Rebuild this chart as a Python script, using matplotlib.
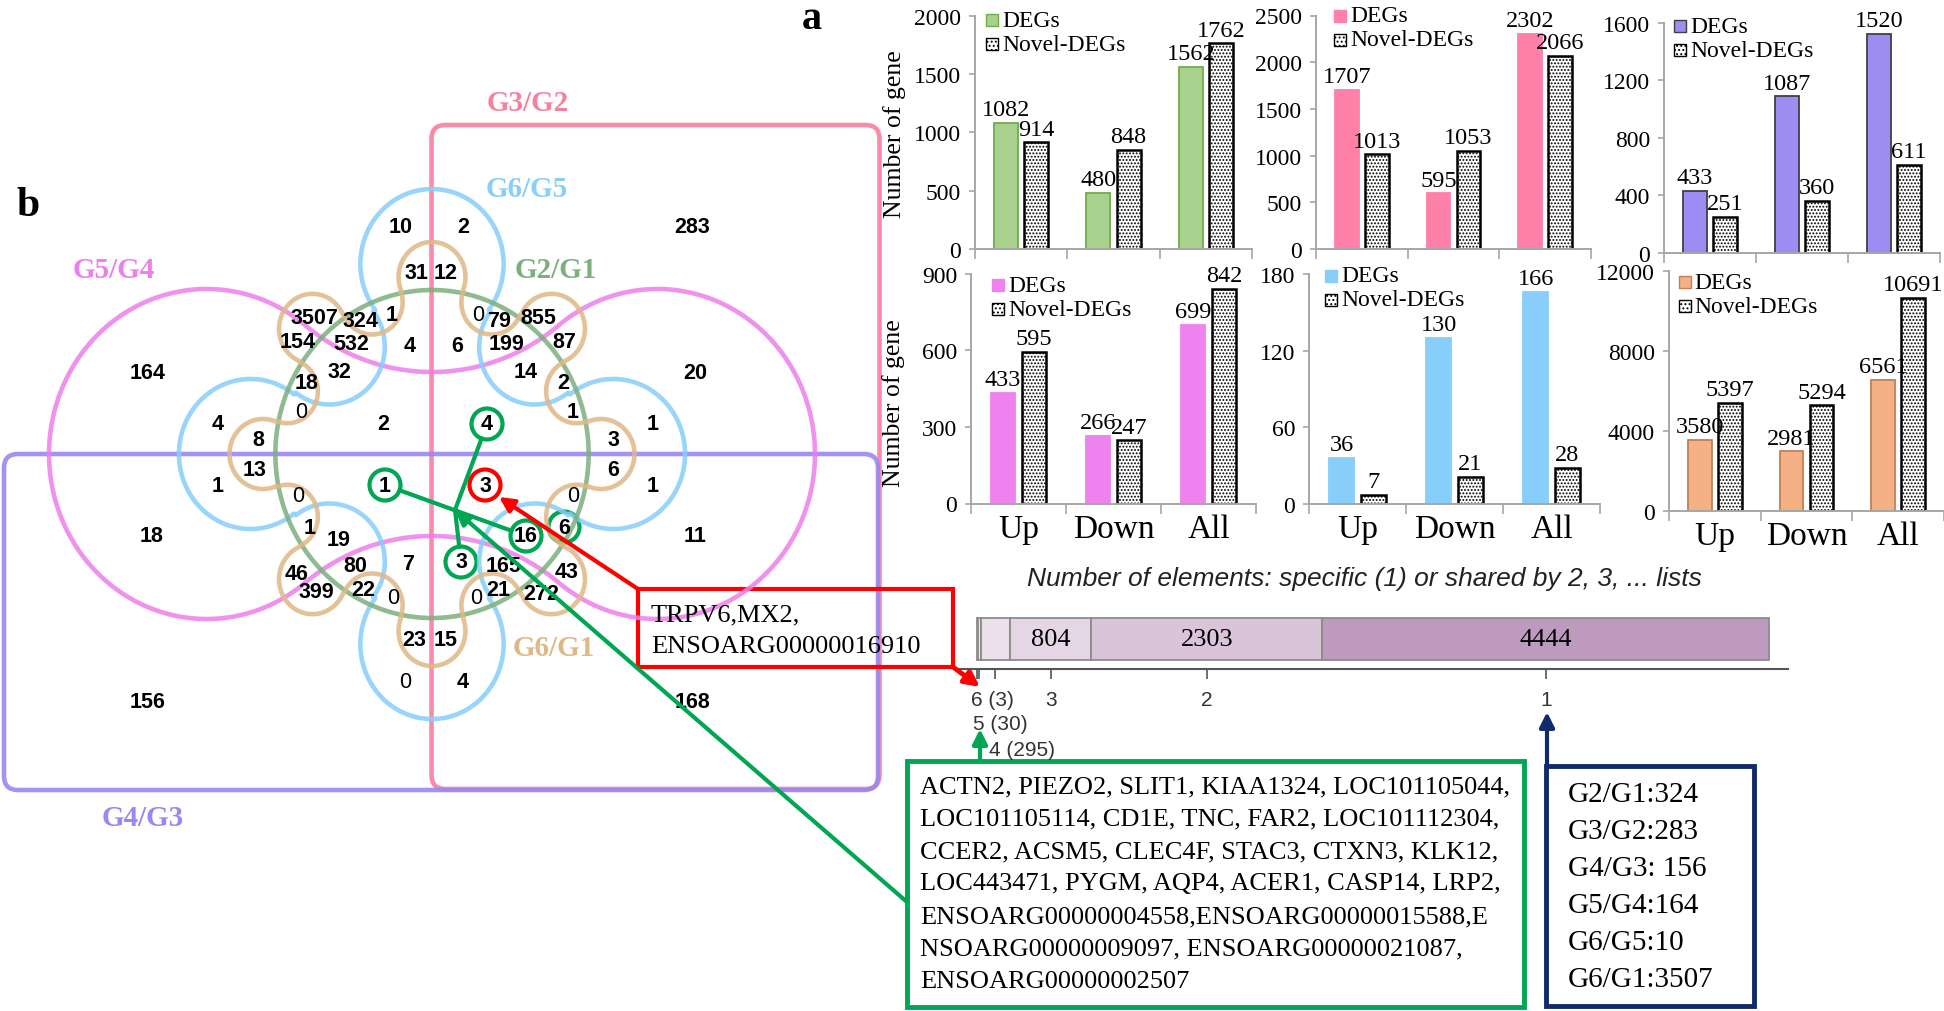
import numpy as np
import matplotlib
matplotlib.use("Agg")
import matplotlib.pyplot as plt
from matplotlib.patches import Rectangle, FancyBboxPatch, Circle

plt.rcParams['font.family'] = 'Liberation Serif'
plt.rcParams['hatch.linewidth'] = 0.9

# ---------------- data ----------------
groups = ['Up', 'Down', 'All']
deg_a = [1082, 480, 1562];  novel_a = [914, 848, 1762]
deg_b = [1707, 595, 2302];  novel_b = [1013, 1053, 2066]
deg_c = [433, 1087, 1520];  novel_c = [251, 360, 611]
deg_d = [433, 266, 699];    novel_d = [595, 247, 842]
deg_e = [36, 130, 166];     novel_e = [7, 21, 28]
deg_f = [3580, 2981, 6561]; novel_f = [5397, 5294, 10691]

share_levels = ['6 (3)', '5 (30)', '4 (295)', '3', '2', '1']
share_counts = [3, 30, 295, 804, 2303, 4444]

set_names = ['G2/G1', 'G3/G2', 'G4/G3', 'G5/G4', 'G6/G5', 'G6/G1']

venn_counts = ['10', '2', '283', '31', '12', '3507', '324', '1', '79', '855',
               '154', '532', '4', '6', '199', '87', '164', '20', '32', '14',
               '18', '2', '1', '4', '8', '2', '3', '1', '13', '1', '6', '1',
               '18', '11', '1', '19', '46', '80', '7', '165', '43', '399',
               '22', '21', '272', '23', '15', '156', '168', '4']
venn_xy = [(401, 227), (463, 227), (692, 227), (416, 273), (446, 273),
           (314, 318), (360, 321), (392, 315), (499, 321), (538, 318),
           (298, 342), (351, 344), (410, 346), (457, 346), (506, 344),
           (564, 342), (148, 373), (695, 373), (339, 372), (526, 372),
           (307, 383), (563, 383), (573, 412), (218, 425), (258, 441),
           (383, 425), (613, 441), (653, 425), (255, 470), (218, 487),
           (613, 470), (653, 487), (152, 537), (695, 537), (310, 528),
           (339, 540), (297, 574), (355, 566), (408, 565), (504, 566),
           (567, 572), (316, 593), (363, 591), (498, 591), (541, 595),
           (414, 640), (446, 640), (148, 702), (692, 702), (463, 683)]
zero_xy = [(478, 315), (301, 412), (298, 497), (573, 497), (393, 599),
           (476, 599), (405, 683)]
circled_counts = ['4', '1', '3', '16', '6', '3']
circled_xy = [(487, 425), (385, 486), (485, 486), (526, 537), (564, 528), (461, 563)]
circled_col = ['g', 'g', 'r', 'g', 'g', 'g']

genes_6 = ['TRPV6,MX2,', 'ENSOARG00000016910']
genes_5 = ['ACTN2, PIEZO2, SLIT1, KIAA1324, LOC101105044,',
           'LOC101105114, CD1E, TNC, FAR2, LOC101112304,',
           'CCER2, ACSM5, CLEC4F, STAC3, CTXN3, KLK12,',
           'LOC443471, PYGM, AQP4, ACER1, CASP14, LRP2,',
           'ENSOARG00000004558,ENSOARG00000015588,E',
           'NSOARG00000009097, ENSOARG00000021087,',
           'ENSOARG00000002507']
specific_1 = ['G2/G1:324', 'G3/G2:283', 'G4/G3: 156', 'G5/G4:164', 'G6/G5:10', 'G6/G1:3507']

# ---------------- figure ----------------
W, H = 1944, 1012
fig = plt.figure(figsize=(W / 100, H / 100), dpi=100)
ov = fig.add_axes([0, 0, 1, 1])
ov.set_xlim(0, W)
ov.set_ylim(H, 0)
ov.axis('off')
ov.set_zorder(5)


def px_axes(l, r, ybot, ytop):
    return fig.add_axes([l / W, 1 - ybot / H, (r - l) / W, (ybot - ytop) / H])


# ---------------- venn (b) ----------------
Cx, Cy, SX = 432, 455, 0.955
X, Y = np.meshgrid(np.arange(0, 900, 1.0), np.arange(100, 800, 1.0))
U = (X - Cx) / SX
V = Y - Cy


def polar(d, ang):
    a = np.deg2rad(ang)
    return np.array([d * np.cos(a), -d * np.sin(a)])


def cog(outs, ins):
    # base radius where outer and inner circles meet
    co, ro = outs[0]
    best = None
    for ci, ri in ins:
        dist = np.linalg.norm(ci - co)
        if best is None or dist < best[0]:
            best = (dist, ci, ri)
    dist, ci, ri = best
    dvec = (ci - co) / dist
    mid = ((co + ro * dvec) + (ci - ri * dvec)) / 2
    base = np.linalg.norm(mid)
    f_out = np.hypot(U, V) - base
    for c, r in outs:
        f_out = np.minimum(f_out, np.hypot(U - c[0], V - c[1]) - r)
    f_in = np.full_like(U, 1e9)
    for c, r in ins:
        f_in = np.minimum(f_in, np.hypot(U - c[0], V - c[1]) - r)
    return np.maximum(f_out, -f_in)


magenta = cog([(np.array([-236.0, 0]), 165), (np.array([236.0, 0]), 165)],
              [(np.array([0, -294.0]), 212), (np.array([0, 294.0]), 212)])
blue = cog([(polar(190, a), 75) for a in (90, 0, 180, 270)],
           [(polar(152, a), 58) for a in (45, 135, 225, 315)])
tan = cog([(polar(177, 90 + 45 * k), 35) for k in range(8)],
          [(polar(164, 67.5 + 45 * k), 32) for k in range(8)])
green = np.hypot(U, V) - 164

c_pink, c_purple = '#F8809F', '#9A87F3'
c_green, c_mag, c_blue, c_tan = '#7DAF7D', '#EC7FEC', '#87CEFA', '#DEB887'

ov.add_patch(FancyBboxPatch((431.5, 126), 448, 664, boxstyle='round,pad=0,rounding_size=14',
                            fill=False, ec=c_pink, lw=3.3, alpha=0.9))
ov.add_patch(FancyBboxPatch((4, 455), 874, 336, boxstyle='round,pad=0,rounding_size=14',
                            fill=False, ec=c_purple, lw=3.3, alpha=0.9))
for F, col in [(magenta, c_mag), (blue, c_blue), (green, c_green), (tan, c_tan)]:
    ov.contour(X, Y, F, levels=[0], colors=[col], linewidths=3.3, alpha=0.85)

for t, (x, y) in zip(venn_counts, venn_xy):
    ov.text(x, y, t, family='Liberation Sans', fontweight='bold', fontsize=15.5,
            ha='center', va='center')
for x, y in zero_xy:
    ov.text(x, y, '0', family='Liberation Sans', fontsize=15.5, ha='center', va='center')

green_ln, red_ln = '#00A651', '#FF0000'
for t, (x, y), c in zip(circled_counts, circled_xy, circled_col):
    col = green_ln if c == 'g' else red_ln
    ov.add_patch(Circle((x, y), 15.5, fill=False, ec=col, lw=3))
    ov.text(x, y, t, family='Liberation Sans', fontweight='bold', fontsize=15.5,
            ha='center', va='center')

label_pos = [(556, 270), (528, 103), (143, 819), (114, 270), (527, 189), (554, 648)]
label_col = [c_green, c_pink, c_purple, c_mag, c_blue, c_tan]
for name, (x, y), col in zip(set_names, label_pos, label_col):
    ov.text(x, y, name, fontsize=21, fontweight='bold', color=col, ha='center', va='center')
ov.text(28, 206, 'b', fontsize=30, fontweight='bold', ha='center', va='center')
ov.text(812, 19, 'a', fontsize=29, fontweight='bold', ha='center', va='center')


def edge_pt(c, target, r=15.5):
    c = np.array(c, float)
    d = np.array(target, float) - c
    return c + r * d / np.linalg.norm(d)


P = (455, 511)
for i in (0, 5):
    s = edge_pt(circled_xy[i], P)
    ov.plot([s[0], P[0]], [s[1], P[1]], color=green_ln, lw=3)
s = edge_pt(circled_xy[1], circled_xy[3])
e = edge_pt(circled_xy[3], circled_xy[1])
ov.plot([s[0], e[0]], [s[1], e[1]], color=green_ln, lw=3)
ov.annotate('', xy=P, xytext=(907, 903),
            arrowprops=dict(arrowstyle='-|>', color=green_ln, lw=3, mutation_scale=22,
                            shrinkA=0, shrinkB=0))

# red gene box
ov.add_patch(Rectangle((638, 590), 315, 78, fill=False, ec=red_ln, lw=3))
for i, t in enumerate(genes_6):
    ov.text(651, 615 + i * 32, t, fontsize=19, ha='left', va='center')
ov.annotate('', xy=(499, 498), xytext=(638, 590),
            arrowprops=dict(arrowstyle='-|>', color=red_ln, lw=3, mutation_scale=22,
                            shrinkA=0, shrinkB=0))
ov.annotate('', xy=(980, 688), xytext=(953, 668),
            arrowprops=dict(arrowstyle='-|>', color=red_ln, lw=3.5, mutation_scale=22,
                            shrinkA=0, shrinkB=0))

# green gene box
ov.add_patch(Rectangle((907, 762), 617, 246, fill=False, ec=green_ln, lw=3.5))
for i, t in enumerate(genes_5):
    ov.text(920, 787 + i * 32.5, t, fontsize=19, ha='left', va='center')
ov.annotate('', xy=(980, 730), xytext=(980, 762),
            arrowprops=dict(arrowstyle='-|>', color=green_ln, lw=3, mutation_scale=22,
                            shrinkA=0, shrinkB=0))

# navy box
navy = '#102A6B'
ov.add_patch(Rectangle((1546, 767), 208, 240, fill=False, ec=navy, lw=3.5))
for i, t in enumerate(specific_1):
    ov.text(1568, 795 + i * 37, t, fontsize=21, ha='left', va='center')
ov.annotate('', xy=(1547, 713), xytext=(1547, 767),
            arrowprops=dict(arrowstyle='-|>', color=navy, lw=3, mutation_scale=22,
                            shrinkA=0, shrinkB=0))

# ---------------- shared-element bar ----------------
k = (1769 - 977.3) / sum(share_counts)
axs = px_axes(960, 1788, 670, 610)
axs.set_xlim(-17.3 / k, (1788 - 977.3) / k)
axs.set_ylim(0, 1)
lefts = np.concatenate([[0], np.cumsum(share_counts)[:-1]])
seg_cols = ['#EFE6EF', '#EFE6EF', '#EADFEA', '#E4D6E4', '#D9C4D9', '#BE9ABE']
axs.barh(0.5, share_counts, left=lefts, height=0.69, color=seg_cols,
         edgecolor='#8C8C8C', linewidth=1.3)
centers = lefts + np.array(share_counts) / 2
for c, v in zip(centers[3:], share_counts[3:]):
    axs.text(c, 0.5, str(v), fontsize=19, ha='center', va='center')
for sp in ('top', 'left', 'right'):
    axs.spines[sp].set_visible(False)
axs.spines['bottom'].set_color('#555555')
axs.spines['bottom'].set_linewidth(1.5)
axs.set_yticks([])
axs.set_xticks(centers)
axs.set_xticklabels([])
axs.tick_params(axis='x', length=7, width=1.2, color='#555555')
rows = [700, 724, 750, 700, 700, 700]
for i, (c, lab) in enumerate(zip(centers, share_levels)):
    xp = 977.3 + c * k
    if i < 3:
        ov.text(xp - 6, rows[i], lab, family='Liberation Sans', fontsize=15,
                color='#333333', ha='left', va='center')
    else:
        ov.text(xp, rows[i], lab, family='Liberation Sans', fontsize=15,
                color='#333333', ha='center', va='center')
ov.text(1364, 579, 'Number of elements: specific (1) or shared by 2, 3, ... lists',
        family='Liberation Sans', fontstyle='italic', fontsize=19, color='#222222',
        ha='center', va='center')


# ---------------- bar panels (a) ----------------
def bar_panel(box, deg, nov, color, edge, ymax, step, leg, show_x):
    l, r, ybot, ytop = box
    ax = px_axes(l, r, ybot, ytop)
    x = np.arange(len(groups))
    b1 = ax.bar(x - 0.163, deg, 0.26, color=color, edgecolor=edge, linewidth=1.3)
    b2 = ax.bar(x + 0.163, nov, 0.26, color='white', edgecolor='black',
                hatch='.....', linewidth=1.8)
    for bars, vals in ((b1, deg), (b2, nov)):
        for rect, v in zip(bars, vals):
            ax.annotate(str(v), (rect.get_x() + rect.get_width() / 2, v),
                        xytext=(0, 2), textcoords='offset points',
                        ha='center', va='bottom', fontsize=17.5)
    ax.set_xlim(-0.5, 2.5)
    ax.set_ylim(0, ymax)
    ax.set_yticks(np.arange(0, ymax + 1, step))
    ax.tick_params(axis='y', labelsize=17, length=4, width=1.2, color='#A6A6A6', pad=6)
    ax.set_xticks(x)
    ax.set_xticks([-0.5, 0.5, 1.5, 2.5], minor=True)
    ax.tick_params(axis='x', which='major', length=0, pad=7, labelsize=24)
    ax.tick_params(axis='x', which='minor', length=7, width=1.2, color='#A6A6A6')
    ax.set_xticklabels(groups if show_x else [])
    for sp in ('top', 'right'):
        ax.spines[sp].set_visible(False)
    for sp in ('left', 'bottom'):
        ax.spines[sp].set_color('#A6A6A6')
        ax.spines[sp].set_linewidth(1.4)
    ax.patch.set_alpha(0)
    # legend
    cx, cy = leg
    ov.add_patch(Rectangle((cx - 6, cy - 6), 12, 12, fc=color, ec=edge, lw=1))
    ov.add_patch(Rectangle((cx - 6, cy + 18), 12, 12, fc='white', ec='black',
                           hatch='....', lw=1))
    ov.text(cx + 10, cy, 'DEGs', fontsize=17, ha='left', va='center')
    ov.text(cx + 10, cy + 24, 'Novel-DEGs', fontsize=17, ha='left', va='center')
    return ax


bar_panel((975, 1252, 250.3, 16.5), deg_a, novel_a, '#A9D18E', '#70AD47', 2000, 500, (992, 21), False)
bar_panel((1316, 1591, 250, 16.5), deg_b, novel_b, '#FF80A8', '#FF80A8', 2500, 500, (1340, 16.5), False)
bar_panel((1664, 1940, 254, 23.6), deg_c, novel_c, '#9D8CF2', '#404040', 1600, 400, (1680, 27), False)
bar_panel((971, 1256, 504.5, 274.8), deg_d, novel_d, '#EE82EE', '#EE82EE', 900, 300, (998, 286), True)
bar_panel((1309, 1600, 505, 274.8), deg_e, novel_e, '#87CEFA', '#87CEFA', 180, 60, (1331, 276.5), True)
bar_panel((1669, 1944, 512, 272.4), deg_f, novel_f, '#F4B183', '#C0805A', 12000, 4000, (1684.5, 283), True)

ov.text(895, 134, 'Number of gene', fontsize=18.5, rotation=90, ha='center', va='center')
ov.text(894, 403, 'Number of gene', fontsize=18.5, rotation=90, ha='center', va='center')

fig.savefig('out.png', dpi=100)
